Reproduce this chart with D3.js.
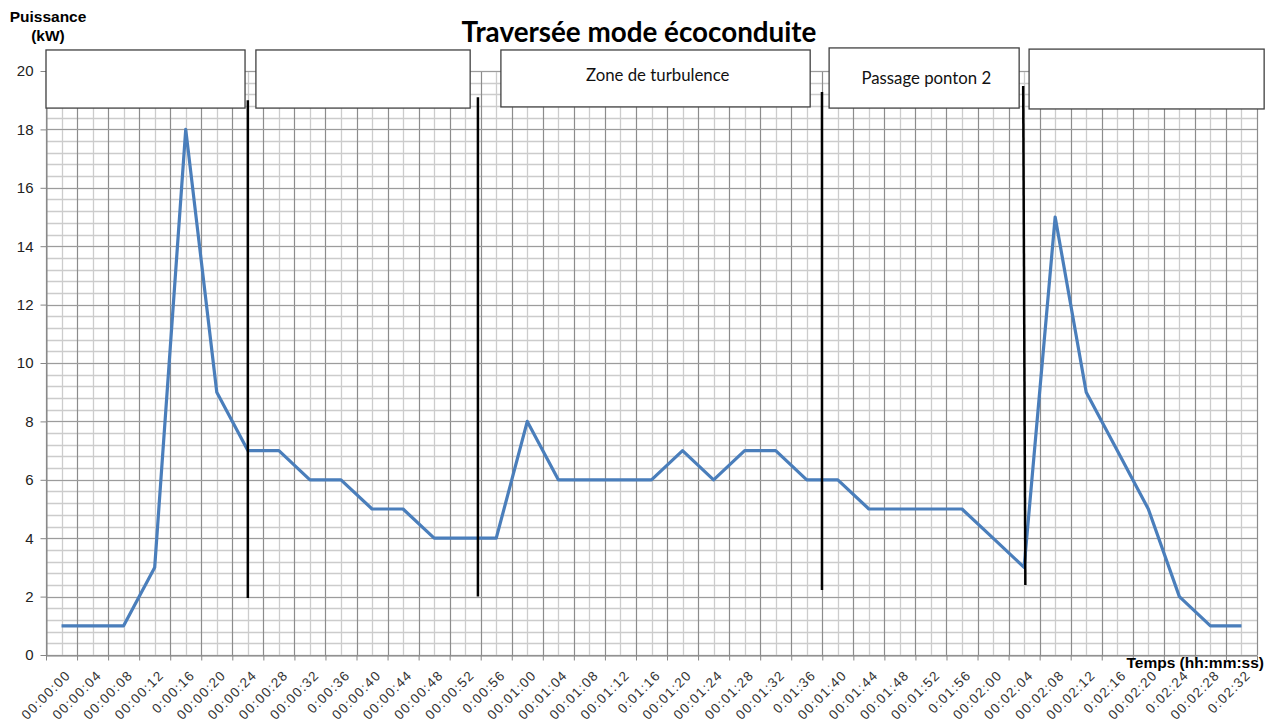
<!DOCTYPE html>
<html>
<head>
<meta charset="utf-8">
<script src="https://cdn.jsdelivr.net/npm/d3@7"></script>
<style>
  body { margin: 0; background: #fff; }
  svg { display: block; }
</style>
</head>
<body>
<svg id="chart"></svg>
<script>
// Time categories (x axis), as printed on the chart
const times = [
  "00:00:00", "00:00:04", "00:00:08", "00:00:12", "0:00:16", "00:00:20",
  "00:00:24", "00:00:28", "00:00:32", "0:00:36", "00:00:40", "00:00:44",
  "00:00:48", "00:00:52", "0:00:56", "00:01:00", "00:01:04", "00:01:08",
  "00:01:12", "0:01:16", "00:01:20", "00:01:24", "00:01:28", "00:01:32",
  "0:01:36", "00:01:40", "00:01:44", "00:01:48", "00:01:52", "0:01:56",
  "00:02:00", "00:02:04", "00:02:08", "00:02:12", "0:02:16", "00:02:20",
  "0:02:24", "00:02:28", "0:02:32"
];

// Power in kW at each time
const power = [
  1, 1, 1, 3, 18, 9, 7, 7, 6, 6, 5, 5, 4, 4, 4, 8, 6, 6, 6, 6,
  7, 6, 7, 7, 6, 6, 5, 5, 5, 5, 4, 3, 15, 9, 7, 5, 2, 1, 1
];

const yTicks = [0, 2, 4, 6, 8, 10, 12, 14, 16, 18, 20];

// Black separators: category position (top, bottom) and kW range
const separators = [
  { x1: 6.0, x2: 6.0, yTop: 19.0, yBot: 1.95 },
  { x1: 13.41, x2: 13.41, yTop: 19.1, yBot: 2.0 },
  { x1: 24.49, x2: 24.49, yTop: 19.28, yBot: 2.23 },
  { x1: 30.97, x2: 31.04, yTop: 19.49, yBot: 2.4 }
];

// Zone boxes in category / kW units
const zones = [
  { x0: -0.5, x1: 5.91, yTop: 20.72, yBot: 18.73, label: "" },
  { x0: 6.26, x1: 13.16, yTop: 20.72, yBot: 18.73, label: "" },
  { x0: 14.15, x1: 24.11, yTop: 20.72, yBot: 18.77, label: "Zone de turbulence", lx: 19.2, ly: 19.66 },
  { x0: 24.72, x1: 30.84, yTop: 20.79, yBot: 18.73, label: "Passage ponton 2", lx: 27.85, ly: 19.55 },
  { x0: 31.16, x1: 38.73, yTop: 20.75, yBot: 18.70, label: "" }
];

const W = 1272, H = 722;
const plotLeft = 46, plotRight = 1257, plotTop = 71, plotBottom = 655;

const svg = d3.select("#chart").attr("width", W).attr("height", H);

// category index -> x (categories sit in the middle of each band)
const x = d3.scaleLinear().domain([-0.5, times.length - 0.5]).range([plotLeft, plotRight]);
const y = d3.scaleLinear().domain([0, 20]).range([plotBottom, plotTop]);

const grid = svg.append("g");

// minor vertical gridlines at category centres
grid.selectAll(".vminor")
  .data(d3.range(times.length))
  .enter()
  .append("line")
  .attr("x1", (d) => Math.round(x(d)) + 0.5)
  .attr("x2", (d) => Math.round(x(d)) + 0.5)
  .attr("y1", plotTop)
  .attr("y2", plotBottom)
  .attr("stroke", "#cccccc")
  .attr("stroke-width", 1.3);

// minor horizontal gridlines every 0.4 kW
grid.selectAll(".hminor")
  .data(d3.range(0, 51).map((k) => k * 0.4))
  .enter()
  .append("line")
  .attr("x1", plotLeft)
  .attr("x2", plotRight)
  .attr("y1", (d) => Math.round(y(d)) + 0.5)
  .attr("y2", (d) => Math.round(y(d)) + 0.5)
  .attr("stroke", "#cccccc")
  .attr("stroke-width", 1.3);

// major vertical gridlines at band boundaries
grid.selectAll(".vmajor")
  .data(d3.range(times.length + 1).map((k) => k - 0.5))
  .enter()
  .append("line")
  .attr("x1", (d) => Math.round(x(d)) + 0.5)
  .attr("x2", (d) => Math.round(x(d)) + 0.5)
  .attr("y1", plotTop)
  .attr("y2", plotBottom)
  .attr("stroke", "#8c8c8c")
  .attr("stroke-width", 1.2);

// major horizontal gridlines
grid.selectAll(".hmajor")
  .data(yTicks)
  .enter()
  .append("line")
  .attr("x1", plotLeft)
  .attr("x2", plotRight)
  .attr("y1", (d) => Math.round(y(d)) + 0.5)
  .attr("y2", (d) => Math.round(y(d)) + 0.5)
  .attr("stroke", "#9c9c9c")
  .attr("stroke-width", 1.2);

// axes
const yAxis = svg.append("g")
  .attr("transform", `translate(${plotLeft + 0.5},0)`)
  .call(d3.axisLeft(y).tickValues(yTicks).tickSizeInner(6).tickSizeOuter(0).tickPadding(7));
yAxis.select(".domain").attr("stroke", "#868686");
yAxis.selectAll(".tick line").attr("stroke", "#868686");
yAxis.selectAll(".tick text")
  .attr("font-family", "'Liberation Sans', Arial, sans-serif")
  .attr("font-size", "15px")
  .attr("fill", "#222");

const xAxis = svg.append("g")
  .attr("transform", `translate(0,${Math.round(y(0)) + 0.5})`)
  .call(
    d3.axisBottom(x)
      .tickValues(d3.range(times.length + 1).map((k) => k - 0.5))
      .tickFormat("")
      .tickSizeInner(5)
      .tickSizeOuter(0)
  );
xAxis.select(".domain").attr("stroke", "#868686");
xAxis.selectAll(".tick line").attr("stroke", "#868686");

// rotated time labels
svg.append("g")
  .selectAll("text")
  .data(times)
  .enter()
  .append("text")
  .attr("transform", (d, i) => `translate(${x(i) + 10},${y(0) + 21}) rotate(-45)`)
  .attr("text-anchor", "end")
  .attr("font-family", "'Liberation Sans', Arial, sans-serif")
  .attr("font-size", "13.5px")
  .attr("letter-spacing", "1.3px")
  .attr("fill", "#333")
  .text((d) => d);

// power line
const line = d3.line()
  .x((d, i) => x(i))
  .y((d) => y(d));

svg.append("path")
  .datum(power)
  .attr("d", line)
  .attr("fill", "none")
  .attr("stroke", "#4a7ebb")
  .attr("stroke-width", 3.2)
  .attr("stroke-linejoin", "round");

// black separators
svg.selectAll(".sep")
  .data(separators)
  .enter()
  .append("line")
  .attr("x1", (d) => x(d.x1))
  .attr("x2", (d) => x(d.x2))
  .attr("y1", (d) => y(d.yTop))
  .attr("y2", (d) => y(d.yBot))
  .attr("stroke", "#000")
  .attr("stroke-width", 2.5);

// zone boxes
const boxes = svg.selectAll(".zone")
  .data(zones)
  .enter()
  .append("g");

boxes.append("rect")
  .attr("x", (d) => x(d.x0))
  .attr("y", (d) => y(d.yTop))
  .attr("width", (d) => x(d.x1) - x(d.x0))
  .attr("height", (d) => y(d.yBot) - y(d.yTop))
  .attr("fill", "#fff")
  .attr("stroke", "#404040")
  .attr("stroke-width", 1.3);

boxes.filter((d) => d.label)
  .append("text")
  .attr("x", (d) => x(d.lx))
  .attr("y", (d) => y(d.ly))
  .attr("text-anchor", "middle")
  .attr("font-family", "Lato, 'Open Sans', sans-serif")
  .attr("font-size", "16.8px")
  .attr("fill", "#111")
  .text((d) => d.label);

// title
svg.append("text")
  .attr("x", 639)
  .attr("y", 42)
  .attr("text-anchor", "middle")
  .attr("font-family", "Lato, 'Open Sans', sans-serif")
  .attr("font-weight", "bold")
  .attr("font-size", "27.8px")
  .attr("fill", "#000")
  .text("Traversée mode écoconduite");

// axis titles
const axisTitle = (sel) => sel
  .attr("font-family", "'Liberation Sans', Arial, sans-serif")
  .attr("font-weight", "bold")
  .attr("font-size", "15.5px")
  .attr("fill", "#000");

svg.append("text").call(axisTitle)
  .attr("x", 48).attr("y", 22)
  .attr("text-anchor", "middle")
  .text("Puissance");
svg.append("text").call(axisTitle)
  .attr("x", 48).attr("y", 41)
  .attr("text-anchor", "middle")
  .text("(kW)");

svg.append("text").call(axisTitle)
  .attr("x", 1264).attr("y", 668)
  .attr("text-anchor", "end")
  .text("Temps (hh:mm:ss)");
</script>
</body>
</html>
